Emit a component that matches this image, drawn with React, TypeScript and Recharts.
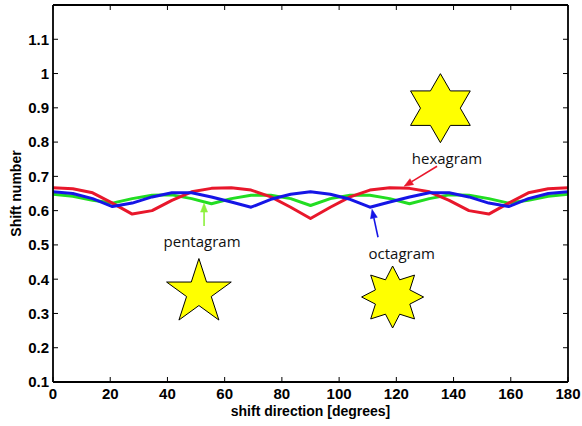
import React from 'react'
import { LineChart, Line, XAxis, YAxis, ReferenceDot } from 'recharts'

// shift direction samples (degrees)
const angles = [0, 6.92, 13.85, 20.77, 27.69, 34.62, 41.54, 48.46, 55.38, 62.31, 69.23, 76.15, 83.08, 90, 96.92, 103.85, 110.77, 117.69, 124.62, 131.54, 138.46, 145.38, 152.31, 159.23, 166.15, 173.08, 180]

const hexagram = [0.667, 0.664, 0.652, 0.622, 0.59, 0.6, 0.63, 0.655, 0.665, 0.667, 0.66, 0.64, 0.61, 0.577, 0.61, 0.64, 0.66, 0.667, 0.665, 0.655, 0.63, 0.6, 0.59, 0.622, 0.652, 0.664, 0.667]
const octagram = [0.655, 0.65, 0.635, 0.612, 0.622, 0.64, 0.652, 0.652, 0.64, 0.625, 0.61, 0.633, 0.648, 0.655, 0.648, 0.633, 0.61, 0.625, 0.64, 0.652, 0.652, 0.64, 0.622, 0.612, 0.635, 0.65, 0.655]
const pentagram = [0.648, 0.642, 0.63, 0.622, 0.635, 0.645, 0.646, 0.635, 0.62, 0.635, 0.645, 0.645, 0.635, 0.615, 0.635, 0.645, 0.645, 0.635, 0.62, 0.635, 0.646, 0.645, 0.635, 0.622, 0.63, 0.642, 0.648]

const xTicks = [0, 20, 40, 60, 80, 100, 120, 140, 160, 180]
const yTicks = [0.1, 0.2, 0.3, 0.4, 0.5, 0.6, 0.7, 0.8, 0.9, 1, 1.1]

const data = angles.map((a, i) => ({
  angle: a,
  hexagram: hexagram[i],
  octagram: octagram[i],
  pentagram: pentagram[i],
}))

const RED = '#e8172b'
const GREEN = '#22dd22'
const BLUE = '#1515e6'

const tickFont = { fontFamily: 'Liberation Sans, Arial, sans-serif', fontWeight: 700, fontSize: 15, fill: '#000' }
const axisLine = { stroke: '#000', strokeWidth: 1.8 }
const noLabel = () => ''
const fmt = (v: number) => String(Math.round(v * 10) / 10)

function starPoints(cx: number, cy: number, n: number, r: number, inner: number) {
  const pts: string[] = []
  for (let k = 0; k < n * 2; k++) {
    const rad = k % 2 === 0 ? r : r * inner
    const a = -Math.PI / 2 + (k * Math.PI) / n
    pts.push(`${cx + rad * Math.cos(a)},${cy + rad * Math.sin(a)}`)
  }
  return pts.join(' ')
}

const star = (n: number, r: number, inner: number) => (p: any) => (
  <polygon points={starPoints(p.cx, p.cy, n, r, inner)} fill="#ffff00" stroke="#000" strokeWidth={1} />
)

const note = (text: string) => (p: any) => (
  <text x={p.cx} y={p.cy} textAnchor="middle" dominantBaseline="central"
    style={{ fontFamily: 'Open Sans, sans-serif', fontSize: 15, fill: '#111' }}>{text}</text>
)

// arrow drawn from the tip (cx, cy) back by (dx, dy) pixels
const arrow = (color: string, dx: number, dy: number) => (p: any) => {
  const len = Math.hypot(dx, dy)
  const ux = -dx / len
  const uy = -dy / len
  const bx = p.cx - ux * 9
  const by = p.cy - uy * 9
  const head = `${p.cx},${p.cy} ${bx + uy * 3.5},${by - ux * 3.5} ${bx - uy * 3.5},${by + ux * 3.5}`
  return (
    <g>
      <line x1={p.cx + dx} y1={p.cy + dy} x2={bx} y2={by} stroke={color} strokeWidth={1.6} />
      <polygon points={head} fill={color} stroke={color} strokeWidth={0.5} />
    </g>
  )
}

export default function App() {
  return (
    <div style={{ width: 582, height: 426, background: '#fff' }}>
      <style>{'body{margin:0}'}</style>
      <LineChart width={582} height={426} data={data} margin={{ top: 4, right: 13, bottom: 4, left: 8 }}>
        <XAxis xAxisId="b" dataKey="angle" type="number" domain={[0, 180]} ticks={xTicks}
          height={40} tickSize={-5} tickMargin={11} axisLine={axisLine} tickLine={{ stroke: '#000' }} tick={tickFont}
          label={{
            content: (p: any) => (
              <text x={p.viewBox.x + p.viewBox.width / 2} y={416} textAnchor="middle" style={{ ...tickFont, fontSize: 14 }}>
                shift direction [degrees]
              </text>
            ),
          }} />
        <XAxis xAxisId="t" orientation="top" dataKey="angle" type="number" domain={[0, 180]} ticks={xTicks}
          height={1} tickSize={-5} tickFormatter={noLabel} axisLine={axisLine} tickLine={{ stroke: '#000' }} />
        <YAxis yAxisId="l" type="number" domain={[0.1, 1.2]} ticks={yTicks} width={45}
          tickSize={-5} tickMargin={9} tickFormatter={fmt} axisLine={axisLine} tickLine={{ stroke: '#000' }} tick={tickFont}
          label={{
            content: (p: any) => (
              <text x={16} y={p.viewBox.y + p.viewBox.height / 2} textAnchor="middle" dominantBaseline="central"
                transform={`rotate(-90 16 ${p.viewBox.y + p.viewBox.height / 2})`} style={{ ...tickFont, fontSize: 14 }}>
                Shift number
              </text>
            ),
          }} />
        <YAxis yAxisId="r" orientation="right" type="number" domain={[0.1, 1.2]} ticks={yTicks} width={1}
          tickSize={-5} tickFormatter={noLabel} axisLine={axisLine} tickLine={{ stroke: '#000' }} />

        <Line xAxisId="b" yAxisId="l" dataKey="pentagram" stroke={GREEN} strokeWidth={3} dot={false} isAnimationActive={false} strokeLinejoin="round" />
        <Line xAxisId="t" yAxisId="r" dataKey="hexagram" stroke={RED} strokeWidth={3} dot={false} isAnimationActive={false} strokeLinejoin="round" />
        <Line xAxisId="b" yAxisId="l" dataKey="octagram" stroke={BLUE} strokeWidth={3} dot={false} isAnimationActive={false} strokeLinejoin="round" />

        <ReferenceDot xAxisId="b" yAxisId="l" x={135.4} y={0.899} shape={star(6, 34.5, 0.577)} />
        <ReferenceDot xAxisId="b" yAxisId="l" x={51} y={0.361} shape={star(5, 34, 0.382)} />
        <ReferenceDot xAxisId="b" yAxisId="l" x={118.7} y={0.348} shape={star(8, 31, 0.6)} />

        <ReferenceDot xAxisId="b" yAxisId="l" x={137.7} y={0.753} shape={note('hexagram')} />
        <ReferenceDot xAxisId="b" yAxisId="l" x={52.1} y={0.511} shape={note('pentagram')} />
        <ReferenceDot xAxisId="b" yAxisId="l" x={121.9} y={0.477} shape={note('octagram')} />

        <ReferenceDot xAxisId="b" yAxisId="l" x={122.7} y={0.671} shape={arrow(RED, 33, -20)} />
        <ReferenceDot xAxisId="b" yAxisId="l" x={52.8} y={0.622} shape={arrow('#8cf03c', 0, 23)} />
        <ReferenceDot xAxisId="b" yAxisId="l" x={111.5} y={0.604} shape={arrow(BLUE, 6, 28)} />
      </LineChart>
    </div>
  )
}
